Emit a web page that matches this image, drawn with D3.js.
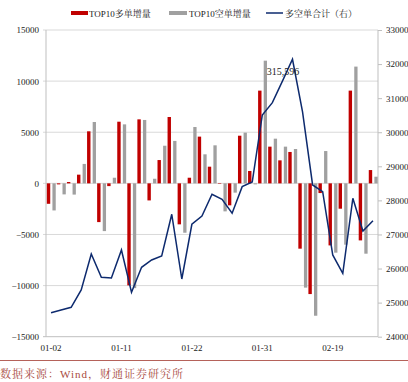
<!DOCTYPE html>
<html><head><meta charset="utf-8">
<script src="https://cdn.jsdelivr.net/npm/d3@7"></script>
<style>
html,body{margin:0;padding:0;background:#fff;}
svg{display:block;}
text{font-family:"Liberation Serif","Times New Roman","Noto Serif CJK SC","Noto Sans CJK SC",serif;}
</style></head>
<body>
<svg id="c" width="408" height="382"></svg>
<script>
const dates = ["01-02","01-03","01-04","01-05","01-08","01-09","01-10","01-11","01-12","01-15","01-16",
  "01-17","01-18","01-19","01-22","01-23","01-24","01-25","01-26","01-29","01-30","01-31",
  "02-01","02-02","02-05","02-06","02-07","02-08","02-19","02-20","02-21","02-22","02-23"];
const tickDates = ["01-02","01-11","01-22","01-31","02-19"];
const longDelta = [-2000,-100,130,850,5090,-3790,-270,6030,-9980,6260,-1670,2280,6490,-4010,550,4570,
  1630,-50,-2150,4660,1210,9070,3590,2250,3070,-6390,-10830,-950,-6070,-2480,9070,-5580,1300];
const shortDelta = [-2650,-1080,-1100,1900,6000,-4670,550,5770,-10250,6200,450,3680,4150,-4830,5510,2840,
  3720,-2740,-910,4960,-100,12000,4370,3590,3360,-10200,-12950,3160,-6780,-6000,11420,-6880,650];
const total = [24704,24784,24862,25371,26427,25743,25723,26545,25302,26036,26251,26368,27592,25693,27299,27543,
  28180,28033,27622,28403,28541,30507,30868,31500,32142,30600,28453,28256,26398,25861,28062,27102,27405];
const leftTicks = [-15000,-10000,-5000,0,5000,10000,15000];
const rightTicks = [24000,25000,26000,27000,28000,29000,30000,31000,32000,33000];
const seriesNames = ["TOP10多单增量","TOP10空单增量","多空单合计（右）"];
const peakLabel = {index:23, text:"315,596"};
const sourceText = "数据来源：Wind，财通证券研究所";

const svg = d3.select("#c");
const L = 46, R = 378, T = 30, B = 336.7;
const x = d3.scaleBand().domain(dates).range([L, R]).padding(0);
const yL = d3.scaleLinear().domain([-15000, 15000]).range([B, T]);
const yR = d3.scaleLinear().domain([24000, 33000]).range([B, T]);
const bw = x.bandwidth();
const cx = d => x(d) + bw / 2;

const RED = "#c00000", GRAY = "#a0a0a0", NAVY = "#0d2a6e";

// gridlines
svg.append("g").selectAll("line").data(leftTicks).join("line")
  .attr("x1", L - 3).attr("x2", R)
  .attr("y1", d => yL(d)).attr("y2", d => yL(d))
  .attr("stroke", d => d === -15000 ? "#bfbfbf" : "#d9d9d9").attr("stroke-width", 1);

// axis lines
svg.append("line").attr("x1", L).attr("x2", L).attr("y1", T).attr("y2", B).attr("stroke", "#bfbfbf");
svg.append("line").attr("x1", R).attr("x2", R).attr("y1", T).attr("y2", B).attr("stroke", "#bfbfbf");

// left axis labels
const axL = svg.append("g").attr("transform", `translate(${L},0)`)
  .call(d3.axisLeft(yL).tickValues(leftTicks).tickSize(0).tickPadding(7).tickFormat(d3.format("d")));
axL.select(".domain").remove();
axL.selectAll("text").attr("font-size", 9).attr("fill", "#222")
  .style("font-family", '"Liberation Serif",serif');

// right axis
const axR = svg.append("g").attr("transform", `translate(${R},0)`)
  .call(d3.axisRight(yR).tickValues(rightTicks).tickSize(4).tickPadding(4).tickFormat(d3.format("d")));
axR.select(".domain").remove();
axR.selectAll("line").attr("stroke", "#bfbfbf");
axR.selectAll("text").attr("font-size", 9).attr("fill", "#222")
  .style("font-family", '"Liberation Serif",serif');

// x axis labels
const axX = svg.append("g").attr("transform", `translate(0,${B})`)
  .call(d3.axisBottom(x).tickValues(tickDates).tickSize(0).tickPadding(8));
axX.select(".domain").remove();
axX.selectAll("text").attr("font-size", 9).attr("fill", "#222")
  .style("font-family", '"Liberation Serif",serif');

// bars
const z = yL(0);
svg.append("g").selectAll("rect").data(dates).join("rect")
  .attr("x", d => cx(d) - 4.2).attr("width", 3.4)
  .attr("y", (d, i) => Math.min(yL(longDelta[i]), z))
  .attr("height", (d, i) => Math.abs(yL(longDelta[i]) - z))
  .attr("fill", RED);
svg.append("g").selectAll("rect").data(dates).join("rect")
  .attr("x", d => cx(d) + 1.4).attr("width", 3.3)
  .attr("y", (d, i) => Math.min(yL(shortDelta[i]), z))
  .attr("height", (d, i) => Math.abs(yL(shortDelta[i]) - z))
  .attr("fill", GRAY);

// line
const line = d3.line().x((v, i) => cx(dates[i])).y(v => yR(v));
svg.append("path").datum(total).attr("d", line)
  .attr("fill", "none").attr("stroke", NAVY).attr("stroke-width", 1.5).attr("stroke-linejoin", "miter");

// peak label
svg.append("text").attr("x", cx(dates[peakLabel.index]) + 0.5).attr("y", yR(total[peakLabel.index]) - 6)
  .attr("text-anchor", "middle").attr("font-size", 10).attr("fill", "#222")
  .style("font-family", '"Liberation Serif",serif').text(peakLabel.text);

// legend
const lg = svg.append("g");
lg.append("rect").attr("x", 71).attr("y", 11).attr("width", 17).attr("height", 4).attr("fill", RED);
lg.append("text").attr("x", 89).attr("y", 16.5).attr("font-size", 9).attr("fill", "#222").text(seriesNames[0]);
lg.append("rect").attr("x", 169).attr("y", 11).attr("width", 18).attr("height", 4).attr("fill", GRAY);
lg.append("text").attr("x", 189).attr("y", 16.5).attr("font-size", 9).attr("fill", "#222").text(seriesNames[1]);
lg.append("line").attr("x1", 266).attr("x2", 283).attr("y1", 13).attr("y2", 13).attr("stroke", NAVY).attr("stroke-width", 1.5);
lg.append("text").attr("x", 285).attr("y", 16.5).attr("font-size", 9).attr("fill", "#222").text(seriesNames[2]);

// source
svg.append("line").attr("x1", 0).attr("x2", 408).attr("y1", 360.5).attr("y2", 360.5)
  .attr("stroke", "#b5625a").attr("stroke-width", 1);
svg.append("text").attr("x", 0).attr("y", 378).attr("font-size", 11).attr("letter-spacing", 1)
  .attr("fill", "#a84a40").text(sourceText);
</script>
</body></html>
